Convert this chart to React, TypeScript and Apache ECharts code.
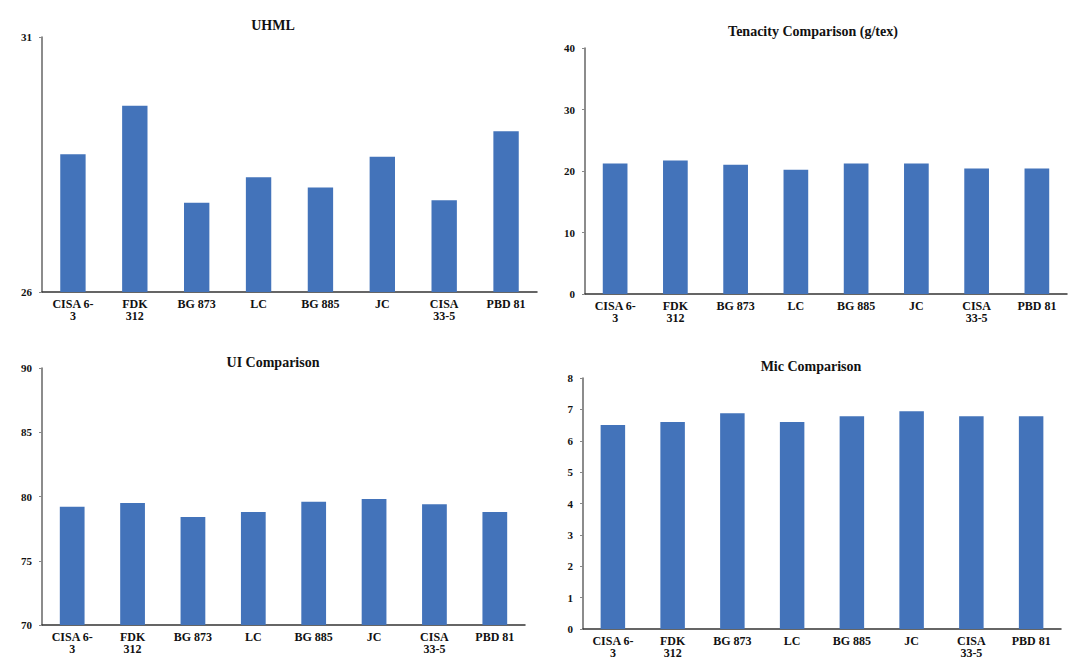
import React, { useEffect, useRef } from "react";
import * as echarts from "echarts";

// Cotton varieties compared in all four panels
const varieties = ["CISA 6-3", "FDK 312", "BG 873", "LC", "BG 885", "JC", "CISA 33-5", "PBD 81"];

// Upper half mean length (mm)
const uhml = [28.7, 29.65, 27.75, 28.25, 28.05, 28.65, 27.8, 29.15];
// Bundle tenacity (g/tex)
const tenacity = [21.2, 21.7, 21.0, 20.2, 21.2, 21.2, 20.4, 20.4];
// Uniformity index (%)
const uniformity = [79.2, 79.5, 78.4, 78.8, 79.6, 79.8, 79.4, 78.8];
// Micronaire
const micronaire = [6.5, 6.6, 6.88, 6.6, 6.78, 6.94, 6.78, 6.78];

const titles = ["UHML", "Tenacity Comparison (g/tex)", "UI Comparison", "Mic Comparison"];

// Axis ranges: [min, max, interval]
const ranges: [number, number, number][] = [
  [26, 31, 5],
  [0, 40, 10],
  [70, 90, 5],
  [0, 8, 1],
];

// How each variety name wraps under its bar
const wrapped: Record<string, string> = {
  "CISA 6-3": "CISA 6-\n3",
  "FDK 312": "FDK\n312",
  "CISA 33-5": "CISA\n33-5",
};

const FONT = "'Liberation Serif', 'DejaVu Serif', serif";
const BAR = "#4373BA";

const grids = [
  { left: 42, top: 37, width: 495, height: 255 },
  { left: 585, top: 48, width: 482, height: 246 },
  { left: 42, top: 368, width: 483, height: 257 },
  { left: 583, top: 378, width: 478, height: 251 },
];

const titlePos = [
  { x: 268, y: 13 },
  { x: 808, y: 19 },
  { x: 268, y: 350 },
  { x: 806, y: 354 },
];

export default function App() {
  const ref = useRef<HTMLDivElement>(null);

  useEffect(() => {
    if (!ref.current) return;
    const chart = echarts.init(ref.current, null, { renderer: "svg" });
    const seriesData = [uhml, tenacity, uniformity, micronaire];

    chart.setOption({
      animation: false,
      backgroundColor: "#ffffff",
      title: titles.map((t, i) => ({
        text: t,
        left: titlePos[i].x,
        top: titlePos[i].y,
        textAlign: "center",
        textStyle: { fontFamily: FONT, fontSize: 14, fontWeight: "bold", color: "#111" },
      })),
      grid: grids.map((g) => ({ ...g, containLabel: false })),
      xAxis: grids.map((_, i) => ({
        type: "category",
        gridIndex: i,
        data: varieties,
        axisLine: { lineStyle: { color: "#333", width: 1.5 } },
        axisTick: { show: false },
        axisLabel: {
          interval: 0,
          margin: 6,
          fontFamily: FONT,
          fontSize: 12,
          fontWeight: "bold",
          color: "#111",
          lineHeight: 12,
          formatter: (v: string) => wrapped[v] ?? v,
        },
      })),
      yAxis: grids.map((_, i) => ({
        type: "value",
        gridIndex: i,
        min: ranges[i][0],
        max: ranges[i][1],
        interval: ranges[i][2],
        axisLine: { show: true, lineStyle: { color: "#666", width: 1.5 } },
        axisTick: { show: true, length: 3, lineStyle: { color: "#888" } },
        splitLine: { show: false },
        axisLabel: {
          margin: 10,
          fontFamily: FONT,
          fontSize: 11,
          fontWeight: "bold",
          color: "#111",
        },
      })),
      series: seriesData.map((d, i) => ({
        type: "bar",
        xAxisIndex: i,
        yAxisIndex: i,
        data: d,
        barWidth: "41%",
        itemStyle: { color: BAR },
      })),
    });

    return () => chart.dispose();
  }, []);

  return (
    <div
      ref={ref}
      style={{ position: "fixed", left: 0, top: 0, width: 1084, height: 666 }}
    />
  );
}
